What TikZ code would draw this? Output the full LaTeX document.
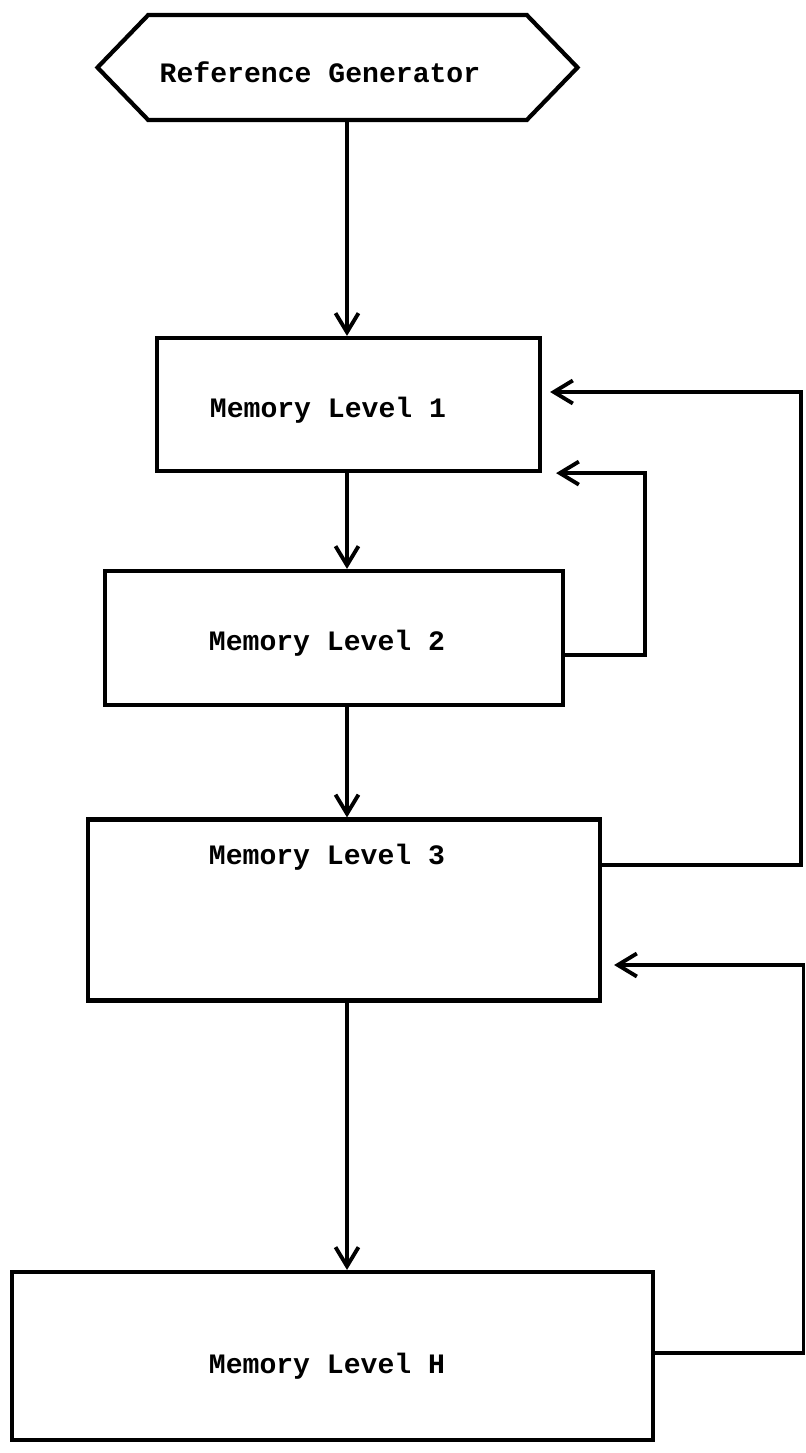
\documentclass[tikz,border=0pt]{standalone}
\usepackage{fontspec}
\setmonofont{Liberation Mono}
\usetikzlibrary{positioning,arrows.meta,shapes.symbols}

\begin{document}
\begin{tikzpicture}[
  membox/.style={rectangle,draw=black,line width=2.4pt},
  tag/.style={font=\ttfamily\bfseries\fontsize{16}{19}\selectfont,inner sep=0pt},
  flow/.style={-{Straight Barb[length=0.38cm,width=0.46cm]},line width=2.2pt},
  ]
\useasboundingbox (0,0) rectangle (16.12,-29.06);
% generator and the memory levels
\node[membox,signal,signal to=west and east,signal pointer angle=92,
      minimum width=9.6cm,minimum height=2.1cm,
      label={[tag,name=tgen,xshift=-0.35cm,yshift=-0.1cm]center:Reference Generator}]
      (gen) at (6.75,-1.35) {};
\node[membox,minimum width=7.66cm,minimum height=2.66cm,
      label={[tag,name=t1,xshift=-0.41cm,yshift=-0.11cm]center:Memory Level 1}]
      (mem1) at (6.97,-8.09) {};
\node[membox,minimum width=9.16cm,minimum height=2.68cm,
      label={[tag,name=t2,xshift=-0.14cm,yshift=-0.1cm]center:Memory Level 2}]
      (mem2) at (6.68,-12.76) {};
\node[membox,minimum width=10.24cm,minimum height=3.62cm,
      label={[tag,name=t3,xshift=-0.34cm,yshift=1.06cm]center:Memory Level 3}]
      (mem3) at (6.88,-18.2) {};
\node[membox,minimum width=12.82cm,minimum height=3.36cm,
      label={[tag,name=tH,xshift=-0.11cm,yshift=-0.2cm]center:Memory Level H}]
      (memH) at (6.65,-27.12) {};
% downward flow
\coordinate (spine) at (6.94,0);
\foreach \a/\b in {gen/mem1,mem1/mem2,mem2/mem3,mem3/memH}
  \draw[flow] (spine |- \a.south) -- (spine |- \b.north);
% return paths
\coordinate (busA) at (12.9,0);
\coordinate (busB) at (16.02,0);
\coordinate (busC) at (16.07,0);
\draw[flow] ([yshift=-0.34cm]mem2.east) -| (busA |- mem1.south)
  -- ([xshift=0.28cm]mem1.south east);
\draw[flow] ([yshift=0.9cm]mem3.east) -| ([yshift=0.25cm]busB |- mem1.east)
  -- ([xshift=0.16cm,yshift=0.25cm]mem1.east);
\draw[flow] ([yshift=0.06cm]memH.east) -| ([yshift=-1.1cm]busC |- mem3.east)
  -- ([xshift=0.24cm,yshift=-1.1cm]mem3.east);
\end{tikzpicture}
\end{document}
